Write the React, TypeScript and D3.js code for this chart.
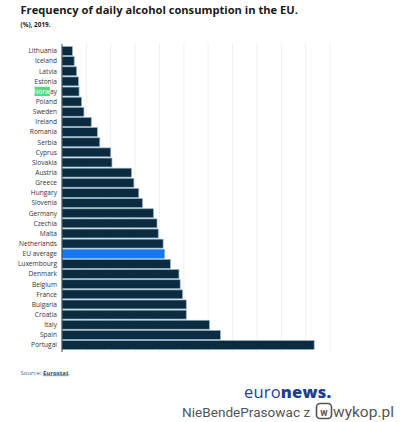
import React from "react";
import * as d3 from "d3";

const countries = [
  "Lithuania", "Iceland", "Latvia", "Estonia", "Norway", "Poland", "Sweden", "Ireland",
  "Romania", "Serbia", "Cyprus", "Slovakia", "Austria", "Greece", "Hungary", "Slovenia",
  "Germany", "Czechia", "Malta", "Netherlands", "EU average", "Luxembourg", "Denmark",
  "Belgium", "France", "Bulgaria", "Croatia", "Italy", "Spain", "Portugal",
];
const values = [
  0.85, 1.0, 1.2, 1.35, 1.4, 1.6, 1.8, 2.4,
  2.9, 3.1, 4.0, 4.1, 5.7, 5.9, 6.3, 6.6,
  7.5, 7.8, 7.9, 8.3, 8.4, 8.9, 9.6,
  9.7, 9.9, 10.2, 10.2, 12.1, 13.0, 20.7,
];
const gridTicks = [0, 2, 4, 6, 8, 10, 12, 14, 16, 18, 20, 22];
const highlighted = "EU average";

const FONT = "'Open Sans', 'Noto Sans', sans-serif";

export default function App() {
  const x = d3.scaleLinear().domain([0, 22]).range([62, 330]);
  const y = d3
    .scaleBand<string>()
    .domain(countries)
    .range([45.9, 45.9 + 30 * 10.14])
    .paddingInner(0.12)
    .paddingOuter(0.06);

  return (
    <svg
      width={400}
      height={422}
      viewBox="0 0 400 422"
      style={{ position: "absolute", left: 0, top: 0, background: "#fff" }}
    >
      <rect x={0} y={0} width={400} height={422} fill="#fff" />
      <text x={20.5} y={14} fontFamily={FONT} fontWeight={700} fontSize={11.15} fill="#1a1a1a">
        Frequency of daily alcohol consumption in the EU.
      </text>
      <text x={20.5} y={27} fontFamily={FONT} fontWeight={700} fontSize={6.4} fill="#1a1a1a">
        (%), 2019.
      </text>

      {gridTicks.slice(1).map((t) => (
        <line key={t} x1={x(t)} x2={x(t)} y1={43} y2={352} stroke="#ececec" strokeWidth={0.8} />
      ))}

      {countries.map((c, i) => (
        <rect
          key={c}
          x={x(0)}
          y={y(c)!}
          width={x(values[i]) - x(0)}
          height={y.bandwidth()}
          fill={c === highlighted ? "#1578ee" : "#0a2b40"}
          stroke={c === highlighted ? "#5a9df0" : "#8eaec0"}
          strokeWidth={0.7}
        />
      ))}

      <line x1={x(0)} x2={x(0)} y1={44} y2={352} stroke="#333" strokeWidth={0.9} />

      {/* selection highlight over Norway label */}
      <rect x={34.5} y={(y("Norway") ?? 0) - 0.3} width={15.3} height={9.3} fill="#4fdb82" />

      {countries.map((c) => {
        const cy = (y(c) ?? 0) + y.bandwidth() / 2;
        if (c === "Norway") {
          return (
            <text key={c} x={57} y={cy} dy="0.35em" textAnchor="end" fontFamily={FONT} fontSize={6.6} fill="#333">
              <tspan fill="#fff">Norw</tspan>
              <tspan>ay</tspan>
            </text>
          );
        }
        return (
          <text key={c} x={57} y={cy} dy="0.35em" textAnchor="end" fontFamily={FONT} fontSize={6.6} fill="#333">
            {c}
          </text>
        );
      })}

      <text x={20.5} y={374.5} fontFamily={FONT} fontSize={6} fill="#3b6d94">
        Source: <tspan fontWeight={700} textDecoration="underline" fill="#1f4f7a">Eurostat</tspan>.
      </text>

      <text x={244} y={398} fontFamily={FONT} fontSize={16.5} fill="#1e3f8f" letterSpacing={0.2}>
        <tspan fontWeight={400}>euro</tspan>
        <tspan fontWeight={800}>news.</tspan>
      </text>

      <text x={182} y={417} fontFamily="Roboto, 'Noto Sans', sans-serif" fontSize={13.6} fill="#555">
        NieBendePrasowac z
      </text>
      <rect x={316.5} y={403.5} width={15} height={15} rx={3.5} fill="none" stroke="#555" strokeWidth={1.6} />
      <text x={324} y={415.5} textAnchor="middle" fontFamily="Roboto, sans-serif" fontWeight={700} fontSize={10} fill="#555">
        w
      </text>
      <text x={333} y={417} fontFamily="Roboto, 'Noto Sans', sans-serif" fontSize={15.5} fill="#555">
        wykop.pl
      </text>
    </svg>
  );
}
